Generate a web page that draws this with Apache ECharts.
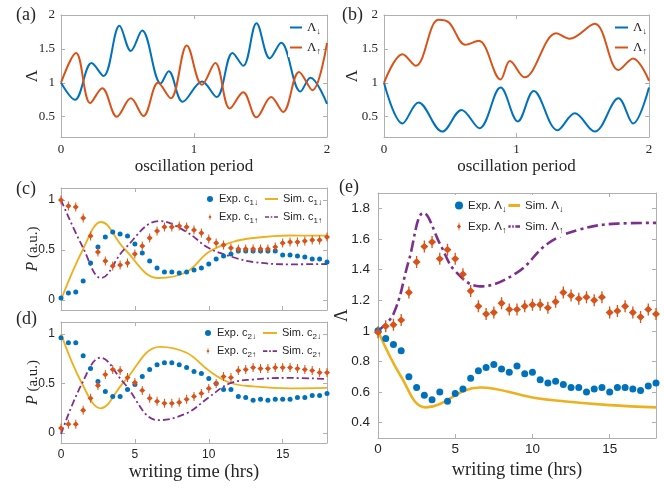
<!DOCTYPE html>
<html><head><meta charset="utf-8">
<script src="https://cdn.jsdelivr.net/npm/echarts@6/dist/echarts.min.js"></script>
<style>html,body{margin:0;padding:0;background:#fff}#c{width:664px;height:492px}</style>
</head><body><div id="c"></div>
<script>
// ---------------- DATA ----------------
// (a) oscillation curves [period, Lambda]
const aDown = [[0,1.0],[0.105,0.75],[0.23,1.29],[0.32,1.10],[0.44,1.84],[0.525,1.47],[0.61,1.77],[0.75,0.99],[0.81,1.17],[0.915,0.72],[1.06,1.02],[1.17,0.79],[1.29,1.44],[1.37,1.25],[1.47,1.88],[1.57,1.36],[1.655,1.59],[1.80,0.87],[1.875,1.075],[2.0,0.69]];
const aUp = [[0,1.0],[0.113,1.44],[0.22,0.70],[0.31,0.92],[0.42,0.50],[0.525,0.77],[0.62,0.51],[0.73,1.0],[0.825,0.77],[0.946,1.55],[1.06,0.97],[1.16,1.29],[1.27,0.62],[1.37,0.86],[1.47,0.49],[1.58,0.79],[1.67,0.57],[1.79,1.16],[1.89,0.89],[2.0,1.59]];
// (b)
const bDown = [[0,1.0],[0.14,0.40],[0.26,0.71],[0.44,0.28],[0.585,0.60],[0.72,0.33],[0.88,0.93],[1.01,0.43],[1.13,0.88],[1.31,0.30],[1.44,0.55],[1.59,0.28],[1.77,0.77],[1.88,0.40],[2.0,0.93]];
const bUp = [[0,1.0],[0.14,1.42],[0.24,1.25],[0.41,1.93],[0.49,1.89],[0.615,1.56],[0.715,1.62],[0.88,1.05],[0.95,1.32],[1.06,1.08],[1.30,1.73],[1.40,1.65],[1.59,1.87],[1.77,1.19],[1.88,1.36],[2.0,1.03]];
// experiment times (hrs)
const tExp = [0,0.5,1,1.5,2,2.5,3,3.5,4,4.5,5,5.5,6,6.5,7,7.5,8,8.5,9,9.5,10,10.5,11,11.5,12,12.5,13,13.5,14,14.5,15,15.5,16,16.5,17,17.5,18];
// (c)
const cExpDown = [0.02,0.07,0.08,0.19,0.37,0.53,0.63,0.68,0.66,0.64,0.56,0.47,0.39,0.32,0.28,0.28,0.27,0.28,0.30,0.32,0.36,0.41,0.44,0.46,0.49,0.49,0.49,0.49,0.49,0.49,0.45,0.45,0.44,0.43,0.41,0.41,0.38];
const cExpUp = [1.0,0.94,0.93,0.82,0.64,0.48,0.39,0.34,0.35,0.37,0.46,0.54,0.62,0.69,0.73,0.73,0.74,0.73,0.70,0.67,0.61,0.57,0.55,0.52,0.51,0.51,0.51,0.51,0.51,0.53,0.57,0.58,0.58,0.59,0.60,0.60,0.63];
const cSimDown = [[0,0],[1.5,0.51],[2.72,0.78],[4.3,0.51],[6.6,0.22],[8.5,0.28],[10,0.48],[11.6,0.58],[13,0.62],[15.5,0.645],[18,0.643]];
const cSimUp = [[0,1.0],[1.5,0.52],[2.72,0.22],[4.3,0.51],[6.67,0.79],[8.5,0.68],[10,0.52],[11.6,0.43],[13,0.38],[15.5,0.357],[18,0.36]];
// (d)
const dExpDown = [0.96,0.91,0.91,0.78,0.65,0.52,0.42,0.37,0.37,0.44,0.49,0.57,0.64,0.69,0.71,0.71,0.69,0.66,0.62,0.60,0.55,0.50,0.44,0.44,0.37,0.36,0.33,0.34,0.33,0.34,0.34,0.34,0.36,0.36,0.38,0.38,0.40];
const dExpUp = [0.05,0.09,0.09,0.23,0.35,0.48,0.59,0.64,0.63,0.56,0.51,0.43,0.35,0.32,0.30,0.30,0.31,0.34,0.37,0.40,0.45,0.50,0.57,0.56,0.63,0.64,0.66,0.65,0.65,0.66,0.66,0.66,0.65,0.64,0.63,0.61,0.61];
const dSimDown = [[0,1.0],[1.42,0.5],[2.68,0.25],[4.23,0.51],[6.7,0.87],[8.5,0.81],[10,0.63],[11.4,0.51],[13,0.47],[15.5,0.45],[18,0.455]];
const dSimUp = [[0,-0.01],[1.42,0.5],[2.68,0.76],[4.23,0.51],[6.6,0.13],[8.5,0.20],[10,0.36],[11.4,0.5],[13,0.54],[15.5,0.556],[18,0.545]];
// (e)
const eExpDown = [1.0,0.95,0.91,0.87,0.70,0.63,0.58,0.55,0.60,0.54,0.59,0.62,0.69,0.74,0.76,0.78,0.75,0.73,0.77,0.72,0.73,0.68,0.66,0.67,0.65,0.63,0.63,0.60,0.62,0.63,0.60,0.63,0.63,0.62,0.61,0.64,0.66];
const eExpUp = [0.99,1.03,1.04,1.07,1.25,1.45,1.55,1.58,1.47,1.53,1.47,1.37,1.26,1.16,1.11,1.12,1.18,1.14,1.14,1.16,1.17,1.17,1.15,1.19,1.25,1.23,1.21,1.22,1.20,1.22,1.12,1.13,1.16,1.12,1.09,1.14,1.11];
const eSimDown = [[0,1.0],[1.5,0.70],[3.1,0.50],[6.6,0.63],[10,0.565],[12,0.54],[15,0.515],[18,0.50]];
const eSimUp = [[0,1.0],[1,1.11],[2,1.46],[2.95,1.77],[4.1,1.55],[5,1.39],[6.6,1.29],[9,1.38],[11,1.57],[13,1.66],[15.5,1.70],[18,1.705]];
// tick labels
const xTicksOsc = [0,1,2];
const yTicksOsc = [0.5,1,1.5,2];
const xTicksTime = [0,5,10,15];
const yTicksP = [0,0.5,1];
const yTicksE = [0.4,0.6,0.8,1,1.2,1.4,1.6,1.8];

// ---------------- STYLE ----------------
const SERIF = '"Liberation Serif","Times New Roman",serif';
const SANS = '"Liberation Sans",Arial,sans-serif';
const AXC = '#b0b0b0', TXT = '#262626';
const BLUE = '#0072BD', RED = '#D95319', YEL = '#EDB120', PUR = '#7E2F8E';
const RED_SYM = 'path://M0,-6L0.5,-6L0.5,-3.2L3,0L0.5,3.2L0.5,6L-0.5,6L-0.5,3.2L-3,0L-0.5,-3.2L-0.5,-6Z';
const DASHDOT_ICON = 'path://M0,0h5v2h-5zM7,0h2v2h-2zM11,0h5v2h-5z';
const DASHDOT_ICON_E = 'path://M0,0h6v3h-6zM8,0h2v3h-2zM12,0h6v3h-6z';

const grids = [
  {left:61, top:15, width:266, height:122},
  {left:384, top:15, width:265, height:122},
  {left:61, top:188, width:266, height:122},
  {left:61, top:322, width:266, height:121},
  {left:378, top:193, width:278, height:245}
];

function ax(grid, pos, min, max, ticks, lbl) {
  const o = {
    type:'value', gridIndex:grid, position:pos, min:min, max:max,
    axisLine:{show:true, onZero:false, lineStyle:{color:AXC, width:1}},
    axisTick:{show:true, inside:true, length:4, customValues:ticks, lineStyle:{color:AXC, width:1}},
    axisLabel:{show:false, customValues:ticks},
    splitLine:{show:false}
  };
  if (lbl) {
    o.axisLabel = Object.assign({show:true, customValues:ticks, color:TXT}, lbl);
  }
  return o;
}
function nm(o, name, gap, style) {
  o.name = name; o.nameLocation = 'middle'; o.nameGap = gap; o.nameMoveOverlap = false;
  o.nameTextStyle = Object.assign({color:TXT}, style);
  return o;
}

const oscLbl = {fontFamily:SERIF, fontSize:13, margin:6};
const xAxis = [
  nm(ax(0,'bottom',0,2,xTicksOsc,oscLbl),'oscillation period',21,{fontFamily:SERIF,fontSize:17}),
  ax(0,'top',0,2,xTicksOsc),
  nm(ax(1,'bottom',0,2,xTicksOsc,oscLbl),'oscillation period',21,{fontFamily:SERIF,fontSize:17}),
  ax(1,'top',0,2,xTicksOsc),
  ax(2,'bottom',0,18,xTicksTime),
  ax(2,'top',0,18,xTicksTime),
  nm(ax(3,'bottom',0,18,xTicksTime,{fontFamily:SANS,fontSize:12,margin:6}),'writing time (hrs)',20,{fontFamily:SERIF,fontSize:18.5}),
  ax(3,'top',0,18,xTicksTime),
  nm(ax(4,'bottom',0,18,xTicksTime,{fontFamily:SANS,fontSize:13.5,margin:4}),'writing time (hrs)',23,{fontFamily:SERIF,fontSize:18.5}),
  ax(4,'top',0,18,xTicksTime)
];
const pName = {fontFamily:SERIF, fontSize:15, rich:{i:{fontFamily:SERIF, fontSize:16, fontStyle:'italic', color:TXT}}};
const yAxis = [
  nm(ax(0,'left',0.2,2,yTicksOsc,oscLbl),'Λ',20,{fontFamily:SERIF,fontSize:17}),
  ax(0,'right',0.2,2,yTicksOsc),
  nm(ax(1,'left',0.2,2,yTicksOsc,oscLbl),'Λ',23,{fontFamily:SERIF,fontSize:17}),
  ax(1,'right',0.2,2,yTicksOsc),
  nm(ax(2,'left',-0.1,1.12,yTicksP,{fontFamily:SANS,fontSize:12,margin:6}),'{i|P} (a.u.)',20,pName),
  ax(2,'right',-0.1,1.12,yTicksP),
  nm(ax(3,'left',-0.1,1.12,yTicksP,{fontFamily:SANS,fontSize:12,margin:6}),'{i|P} (a.u.)',20,pName),
  ax(3,'right',-0.1,1.12,yTicksP),
  nm(ax(4,'left',0.3,1.9,yTicksE,{fontFamily:SANS,fontSize:13.5,margin:8}),'Λ',27,{fontFamily:SERIF,fontSize:18}),
  ax(4,'right',0.3,1.9,yTicksE)
];

function lineS(name, gi, data, color, width, dash, smooth) {
  return {type:'line', name:name, xAxisIndex:2*gi, yAxisIndex:2*gi, data:data,
    showSymbol:false, symbol:'none', smooth:smooth, z:3,
    lineStyle:{color:color, width:width, type:dash || 'solid'}, itemStyle:{color:color}};
}
function expS(name, gi, vals, color, sym, size) {
  return {type:'scatter', name:name, xAxisIndex:2*gi, yAxisIndex:2*gi,
    data:tExp.map((t,i)=>[t, vals[i]]), symbol:sym, symbolSize:size, z:4,
    itemStyle:{color:color, opacity:1}};
}

const series = [
  lineS('aDown',0,aDown,BLUE,2,null,0.36),
  lineS('aUp',0,aUp,RED,2,null,0.36),
  lineS('bDown',1,bDown,BLUE,2,null,0.36),
  lineS('bUp',1,bUp,RED,2,null,0.36),
  lineS('cSimD',2,cSimDown,YEL,1.8,null,0.4),
  lineS('cSimU',2,cSimUp,PUR,1.8,[7,3,2,3],0.4),
  expS('cExpD',2,cExpDown,BLUE,'circle',5),
  expS('cExpU',2,cExpUp,RED,RED_SYM,[6,9]),
  lineS('dSimD',3,dSimDown,YEL,1.8,null,0.4),
  lineS('dSimU',3,dSimUp,PUR,1.8,[7,3,2,3],0.4),
  expS('dExpD',3,dExpDown,BLUE,'circle',5),
  expS('dExpU',3,dExpUp,RED,RED_SYM,[6,9]),
  lineS('eSimD',4,eSimDown,YEL,2.6,null,0.4),
  lineS('eSimU',4,eSimUp,PUR,2.6,[11,4,3,4],0.4),
  expS('eExpD',4,eExpDown,BLUE,'circle',7),
  expS('eExpU',4,eExpUp,RED,RED_SYM,[8,12])
];

const legendText = {
  aDown:'{m|Λ}{s|↓}', aUp:'{m|Λ}{s|↑}', bDown:'{m|Λ}{s|↓}', bUp:'{m|Λ}{s|↑}',
  cExpD:'{m|Exp. c}{s|1↓}', cExpU:'{m|Exp. c}{s|1↑}', cSimD:'{m|Sim. c}{s|1↓}', cSimU:'{m|Sim. c}{s|1↑}',
  dExpD:'{m|Exp. c}{s|2↓}', dExpU:'{m|Exp. c}{s|2↑}', dSimD:'{m|Sim. c}{s|2↓}', dSimU:'{m|Sim. c}{s|2↑}',
  eExpD:'{m|Exp. Λ}{s|↓}', eExpU:'{m|Exp. Λ}{s|↑}', eSimD:'{m|Sim. Λ}{s|↓}', eSimU:'{m|Sim. Λ}{s|↑}'
};
function richTS(family, fs, sfs, lh, pad) {
  return {color:TXT, fontFamily:family, fontSize:fs, rich:{
    m:{fontFamily:family, fontSize:fs, lineHeight:lh, color:TXT},
    s:{fontFamily:family, fontSize:sfs, lineHeight:sfs+1, padding:[pad,0,0,0], color:TXT}}};
}
function leg(data, left, top, iw, ih, gap, ts, padding, z) {
  return {data:data, left:left, top:top, orient:'vertical', itemWidth:iw, itemHeight:ih, itemGap:gap,
    selectedMode:false, backgroundColor:'#fff', padding:padding, textStyle:ts, z:z || 4,
    formatter:function(n){return legendText[n];}};
}
const tsOsc = richTS(SERIF,13,9,14,8);
const tsCD = richTS(SANS,11,8,14,8);
const tsE = richTS(SANS,11.5,9,15,8);
const legend = [
  leg([{name:'aDown',icon:'rect'},{name:'aUp',icon:'rect'}],288,18,12,2,3,tsOsc,[1,2,1,2]),
  leg([{name:'bDown',icon:'rect'},{name:'bUp',icon:'rect'}],613,18,13,2,3,tsOsc,[1,2,1,2]),
  leg(['cExpD','cExpU'],204,189,8,6,2,tsCD,[2,2,2,3],5),
  leg([{name:'cSimD',icon:'rect'},{name:'cSimU',icon:DASHDOT_ICON}],263,189,13,2,2,tsCD,[2,0,2,2]),
  leg(['dExpD','dExpU'],202,323,8,6,2,tsCD,[2,2,2,3],5),
  leg([{name:'dSimD',icon:'rect'},{name:'dSimU',icon:DASHDOT_ICON}],261,323,14,2,2,tsCD,[2,0,2,2]),
  leg(['eExpD','eExpU'],452,195,8,8,4,tsE,[2,2,2,3],5),
  leg([{name:'eSimD',icon:'rect'},{name:'eSimU',icon:DASHDOT_ICON_E}],504,195,14,3,4,tsE,[2,2,2,2])
];

const pl = (t, x, y) => ({type:'text', left:x, top:y, z:10,
  style:{text:t, font:'18px "Liberation Serif"', fill:TXT}});
const graphic = [pl('(a)',16,6), pl('(b)',342,6), pl('(c)',16,180), pl('(d)',16,310), pl('(e)',339,178)];

const chart = echarts.init(document.getElementById('c'));
chart.setOption({animation:false, backgroundColor:'#fff', grid:grids, xAxis:xAxis, yAxis:yAxis,
  series:series, legend:legend, graphic:graphic});
</script></body></html>
